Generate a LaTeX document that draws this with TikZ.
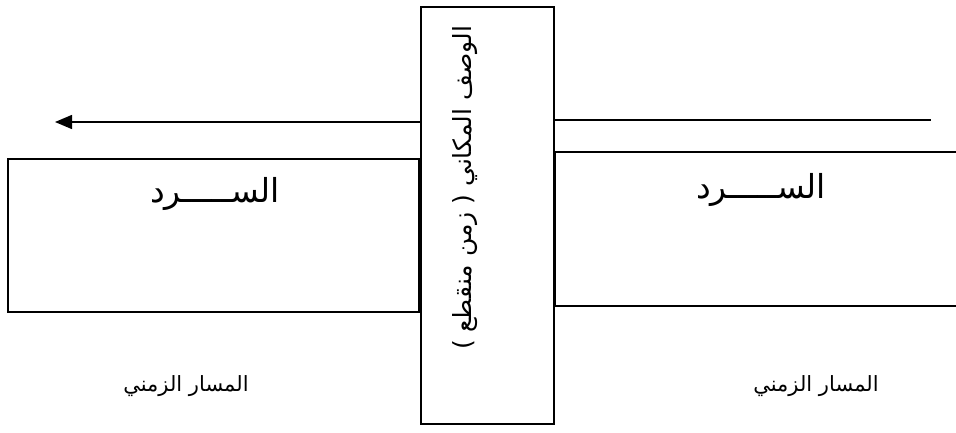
\documentclass[tikz,border=0pt]{standalone}
\usepackage{fontspec}
\usetikzlibrary{arrows.meta}
\TeXXeTstate=1
\newfontfamily\arabicfont[Script=Arabic]{DejaVu Sans}
\begin{document}
\begin{tikzpicture}[x=1pt,y=-1pt,
  frame/.style={draw=black,line width=1.4pt,inner sep=0pt},
  band/.style={draw=black,line width=1.4pt},
  bigword/.style={font=\arabicfont\fontsize{33}{36}\selectfont,inner sep=0pt},
  vword/.style={font=\arabicfont\fontsize{25}{28}\selectfont,inner sep=0pt,rotate=90},
  smallword/.style={font=\arabicfont\fontsize{21}{24}\selectfont,inner sep=0pt}]
\useasboundingbox (0,0) rectangle (956,432);

% central column
\node[frame,line width=1.8pt,minimum width=133pt,minimum height=417pt] (desc) at (487.5,215.5) {};
\node[vword] (descText) at (465,188) {\beginR الوصف المكاني ( زمن منقطع )\endR};

% left block with the outgoing arrow
\node[frame,minimum width=411pt,minimum height=153pt] (narrL) at (213.5,235.5) {};
\node[bigword] (narrLText) at (215,194) {\beginR الســـــرد\endR};
\coordinate (arrowEnd) at (55,122);
\draw[band,-{Triangle[length=17pt,width=14pt]}] (desc.west |- arrowEnd) -- (arrowEnd);

% right block running off the edge
\coordinate (rTop) at (960,152);
\coordinate (rBot) at (960,306);
\draw[band] (rTop) -- (desc.east |- rTop) -- (desc.east |- rBot) -- (rBot);
\coordinate (lineEnd) at (931,120);
\draw[band] (desc.east |- lineEnd) -- (lineEnd);
\node[bigword] (narrRText) at (761,190) {\beginR الســـــرد\endR};

% time-track labels
\node[smallword] (trackL) at (186,386) {\beginR المسار الزمني\endR};
\node[smallword] (trackR) at (816,386) {\beginR المسار الزمني\endR};
\end{tikzpicture}
\end{document}
